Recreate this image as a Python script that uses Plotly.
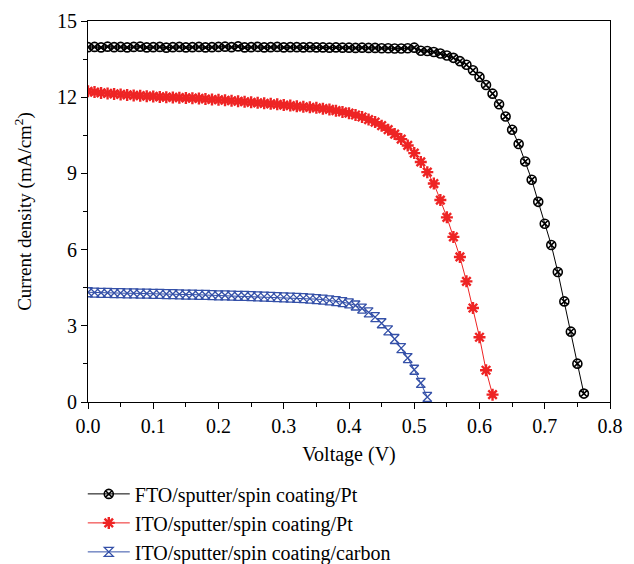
import plotly.graph_objects as go

voltage = [0.00, 0.01, 0.02, 0.03, 0.04, 0.05, 0.06, 0.07, 0.08, 0.09,
           0.10, 0.11, 0.12, 0.13, 0.14, 0.15, 0.16, 0.17, 0.18, 0.19,
           0.20, 0.21, 0.22, 0.23, 0.24, 0.25, 0.26, 0.27, 0.28, 0.29,
           0.30, 0.31, 0.32, 0.33, 0.34, 0.35, 0.36, 0.37, 0.38, 0.39,
           0.40, 0.41, 0.42, 0.43, 0.44, 0.45, 0.46, 0.47, 0.48, 0.49,
           0.50, 0.51, 0.52, 0.53, 0.54, 0.55, 0.56, 0.57, 0.58, 0.59,
           0.60, 0.61, 0.62, 0.63, 0.64, 0.65, 0.66, 0.67, 0.68, 0.69,
           0.70, 0.71, 0.72, 0.73, 0.74, 0.75, 0.76]

fto_pt = [13.97, 13.98, 13.96, 13.99, 13.97, 13.98, 13.96, 13.98, 13.99, 13.96,
          13.97, 13.98, 13.95, 13.97, 13.98, 13.96, 13.97, 13.98, 13.96, 13.97,
          13.98, 13.99, 13.97, 14.00, 13.96, 13.97, 13.98, 13.96, 13.97, 13.98,
          13.96, 13.97, 13.97, 13.96, 13.97, 13.96, 13.96, 13.95, 13.96, 13.95,
          13.95, 13.94, 13.95, 13.94, 13.94, 13.93, 13.93, 13.92, 13.92, 13.93,
          13.95, 13.83, 13.82, 13.78, 13.72, 13.64, 13.55, 13.42, 13.28, 13.06,
          12.80, 12.48, 12.14, 11.72, 11.24, 10.72, 10.16, 9.47, 8.75, 7.88,
          7.02, 6.18, 5.12, 3.96, 2.77, 1.51, 0.33]

ito_pt = [12.23, 12.20, 12.17, 12.15, 12.13, 12.11, 12.09, 12.07, 12.06, 12.04,
          12.03, 12.01, 12.00, 11.99, 11.98, 11.97, 11.96, 11.95, 11.93, 11.91,
          11.90, 11.88, 11.86, 11.84, 11.82, 11.80, 11.78, 11.76, 11.74, 11.72,
          11.69, 11.67, 11.64, 11.62, 11.60, 11.58, 11.55, 11.52, 11.47, 11.42,
          11.37, 11.30, 11.22, 11.12, 11.02, 10.88, 10.72, 10.55, 10.35, 10.10,
          9.80, 9.45, 9.05, 8.60, 7.95, 7.27, 6.50, 5.71, 4.75, 3.70,
          2.55, 1.25, 0.29]

ito_carbon = [4.32, 4.31, 4.30, 4.30, 4.29, 4.29, 4.28, 4.28, 4.27, 4.27,
              4.26, 4.26, 4.25, 4.25, 4.24, 4.23, 4.23, 4.22, 4.22, 4.21,
              4.20, 4.20, 4.19, 4.18, 4.18, 4.17, 4.16, 4.15, 4.14, 4.13,
              4.12, 4.11, 4.10, 4.09, 4.07, 4.05, 4.03, 4.00, 3.97, 3.93,
              3.88, 3.80, 3.68, 3.53, 3.34, 3.10, 2.82, 2.48, 2.12, 1.73,
              1.27, 0.75, 0.20]

series_names = ["FTO/sputter/spin coating/Pt",
                "ITO/sputter/spin coating/Pt",
                "ITO/sputter/spin coating/carbon"]
x_ticks = [0.0, 0.1, 0.2, 0.3, 0.4, 0.5, 0.6, 0.7, 0.8]
x_tick_labels = ["0.0", "0.1", "0.2", "0.3", "0.4", "0.5", "0.6", "0.7", "0.8"]
y_ticks = [0, 3, 6, 9, 12, 15]

FONT = "Liberation Serif"

fig = go.Figure()
fig.add_trace(go.Scatter(
    x=voltage[:len(fto_pt)], y=fto_pt, name=series_names[0], mode="lines+markers",
    line=dict(color="black", width=1),
    marker=dict(symbol="circle-x-open", size=9, color="black", line=dict(width=1.6, color="black"))))
fig.add_trace(go.Scatter(
    x=voltage[:len(ito_pt)], y=ito_pt, name=series_names[1], mode="lines+markers",
    line=dict(color="#ee2424", width=1),
    marker=dict(symbol="asterisk-open", size=10, color="#ee2424", line=dict(width=2.4, color="#ee2424"))))
fig.add_trace(go.Scatter(
    x=voltage[:len(ito_carbon)], y=ito_carbon, name=series_names[2], mode="lines+markers",
    line=dict(color="#3450a8", width=1),
    marker=dict(symbol="hourglass-open", size=9, color="#3450a8", line=dict(width=1.3, color="#3450a8"))))

axis_common = dict(
    showline=True, linecolor="black", linewidth=1.2, mirror=True,
    ticks="outside", ticklen=6, tickwidth=1.2, tickcolor="black",
    showgrid=False, zeroline=False,
    tickfont=dict(family=FONT, size=20, color="black"),
)

fig.update_layout(
    width=634, height=564,
    margin=dict(l=88, r=24, t=21, b=162, autoexpand=False),
    paper_bgcolor="white", plot_bgcolor="white",
    font=dict(family=FONT, size=20, color="black"),
    showlegend=True,
    legend=dict(x=-0.01, y=-0.19, xanchor="left", yanchor="top",
                font=dict(family=FONT, size=20, color="black"),
                tracegroupgap=0, itemwidth=42, bgcolor="rgba(0,0,0,0)"),
    xaxis=dict(range=[0, 0.8], tickvals=x_ticks, ticktext=x_tick_labels,
               minor=dict(dtick=0.05, ticklen=4, tickwidth=1.2, tickcolor="black", ticks="outside"),
               title=dict(text="Voltage (V)", font=dict(family=FONT, size=20), standoff=10),
               **axis_common),
    yaxis=dict(range=[0, 15], tickvals=y_ticks,
               minor=dict(dtick=1.5, ticklen=4, tickwidth=1.2, tickcolor="black", ticks="outside"),
               title=dict(text="Current density (mA/cm<sup>2</sup>)", font=dict(family=FONT, size=19), standoff=20),
               **axis_common),
)

fig.write_html("out.html", config={"displayModeBar": False},
               post_script="document.body.style.margin='0';")
